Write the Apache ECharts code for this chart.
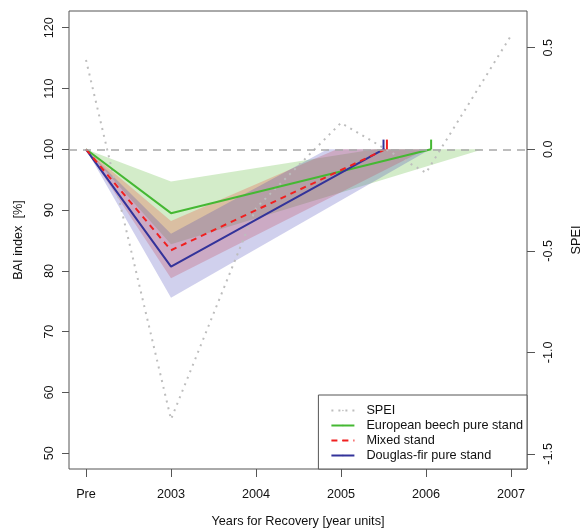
<!DOCTYPE html>
<html>
<head>
<meta charset="utf-8">
<script src="https://cdn.jsdelivr.net/npm/echarts@6/dist/echarts.min.js"></script>
<style>
  html, body { margin: 0; padding: 0; background: #fff; }
  #chart { width: 581px; height: 531px; }
</style>
</head>
<body>
<div id="chart"></div>
<script>
  // x positions: Pre = 0, 2003 = 1, ... 2007 = 5
  var xLabels = ['Pre', '2003', '2004', '2005', '2006', '2007'];
  var baiTicks = [50, 60, 70, 80, 90, 100, 110, 120];
  var speiTicks = [-1.5, -1.0, -0.5, 0.0, 0.5];

  var speiX = [0, 1, 2, 3, 4, 5];
  var speiValues = [0.44, -1.33, -0.29, 0.13, -0.116, 0.56];

  var beechLine = [[0, 100], [1, 89.5], [4.06, 100]];
  var mixedLine = [[0, 100], [1, 83.4], [3.52, 100]];
  var douglasLine = [[0, 100], [1, 80.7], [3.50, 100]];

  // confidence polygons (upper edge then lower edge)
  var beechBand = [[0, 100], [1, 94.7], [3.4, 100], [4.67, 100], [1, 84.4]];
  var mixedBand = [[0, 100], [1, 88.2], [2.95, 100], [4.0, 100], [1, 78.8]];
  var douglasBand = [[0, 100], [1, 86.1], [2.84, 100], [4.05, 100], [1, 75.6]];

  var fontSz = 12.7;

  var chartDom = document.getElementById('chart');
  var myChart = echarts.init(chartDom);

  function bandSeries(name, pts, color) {
    return {
      name: name,
      type: 'custom',
      silent: true,
      z: 1,
      data: [0],
      renderItem: function (params, api) {
        var points = pts.map(function (p) { return api.coord(p); });
        return {
          type: 'polygon',
          shape: { points: points },
          style: { fill: color, stroke: null }
        };
      }
    };
  }

  function tickSeries(x, color) {
    return {
      name: 'tick',
      type: 'line',
      symbol: 'none',
      silent: true,
      z: 5,
      lineStyle: { color: color, width: 2 },
      data: [[x, 100], [x, 101.6]]
    };
  }

  var option = {
    backgroundColor: '#fff',
    animation: false,
    textStyle: { fontFamily: 'Liberation Sans, Arial, sans-serif' },
    grid: {
      left: 69,
      right: 54,
      top: 11,
      bottom: 62,
      outerBoundsMode: 'none',
      show: true,
      borderColor: '#555',
      borderWidth: 1,
      backgroundColor: 'transparent'
    },
    legend: {
      data: ['SPEI', 'European beech pure stand', 'Mixed stand', 'Douglas-fir pure stand'],
      orient: 'vertical',
      right: 54,
      bottom: 62,
      itemWidth: 23,
      itemHeight: 2,
      itemGap: 2,
      padding: [9, 4, 7, 12],
      backgroundColor: '#fff',
      borderColor: '#555',
      borderWidth: 1,
      borderRadius: 0,
      textStyle: { fontSize: fontSz, color: '#111', padding: [0, 0, 0, 7] }
    },
    xAxis: {
      type: 'value',
      min: -0.2,
      max: 5.188,
      splitLine: { show: false },
      axisLine: { show: false, onZero: false },
      axisTick: { show: true, length: 8, customValues: [0, 1, 2, 3, 4, 5], lineStyle: { color: '#555' } },
      axisLabel: {
        customValues: [0, 1, 2, 3, 4, 5],
        margin: 19,
        fontSize: fontSz,
        color: '#111',
        formatter: function (v) { return xLabels[Math.round(v)]; }
      },
      name: 'Years for Recovery [year units]',
      nameLocation: 'middle',
      nameGap: 46,
      nameTextStyle: { fontSize: fontSz, color: '#111' }
    },
    yAxis: [
      {
        type: 'value',
        min: 47.42,
        max: 122.75,
        splitLine: { show: false },
        axisLine: { show: false, onZero: false },
        axisTick: { show: true, length: 7, customValues: baiTicks, lineStyle: { color: '#555' } },
        axisLabel: { customValues: baiTicks, rotate: 90, margin: 13, fontSize: fontSz, color: '#111' },
        name: 'BAI index  [%]',
        nameLocation: 'middle',
        nameRotate: 90,
        nameGap: 44,
        nameTextStyle: { fontSize: fontSz, color: '#111' }
      },
      {
        type: 'value',
        position: 'right',
        min: -1.575,
        max: 0.681,
        splitLine: { show: false },
        axisLine: { show: false, onZero: false },
        axisTick: { show: true, length: 8, customValues: speiTicks, lineStyle: { color: '#555' } },
        axisLabel: {
          customValues: speiTicks,
          rotate: 90,
          margin: 15,
          fontSize: fontSz,
          color: '#111',
          formatter: function (v) { return v.toFixed(1); }
        },
        name: 'SPEI',
        nameLocation: 'middle',
        nameRotate: 90,
        nameGap: 43,
        nameTextStyle: { fontSize: fontSz, color: '#111' }
      }
    ],
    series: [
      bandSeries('beechBand', beechBand, 'rgba(80,180,40,0.25)'),
      bandSeries('mixedBand', mixedBand, 'rgba(235,70,60,0.27)'),
      bandSeries('douglasBand', douglasBand, 'rgba(60,60,180,0.24)'),
      {
        name: 'SPEI',
        type: 'line',
        yAxisIndex: 1,
        symbol: 'none',
        z: 3,
        lineStyle: { color: '#bdbdbd', width: 2, type: [2, 5] },
        itemStyle: { color: '#bdbdbd' },
        data: speiX.map(function (x, i) { return [x, speiValues[i]]; }),
        markLine: {
          silent: true,
          symbol: 'none',
          label: { show: false },
          lineStyle: { color: '#a8a8a8', width: 1.5, type: [8, 6] },
          data: [{ yAxis: 0 }]
        }
      },
      {
        name: 'European beech pure stand',
        type: 'line',
        symbol: 'none',
        z: 4,
        lineStyle: { color: '#45b833', width: 2 },
        itemStyle: { color: '#45b833' },
        data: beechLine
      },
      {
        name: 'Douglas-fir pure stand',
        type: 'line',
        symbol: 'none',
        z: 4,
        lineStyle: { color: '#33339a', width: 2 },
        itemStyle: { color: '#33339a' },
        data: douglasLine
      },
      {
        name: 'Mixed stand',
        type: 'line',
        symbol: 'none',
        z: 4,
        lineStyle: { color: '#f02020', width: 2, type: [6, 5] },
        itemStyle: { color: '#f02020' },
        data: mixedLine
      },
      tickSeries(douglasLine[2][0], '#33339a'),
      tickSeries(3.54, '#f02020'),
      tickSeries(beechLine[2][0], '#45b833')
    ]
  };

  option && myChart.setOption(option);
</script>
</body>
</html>
